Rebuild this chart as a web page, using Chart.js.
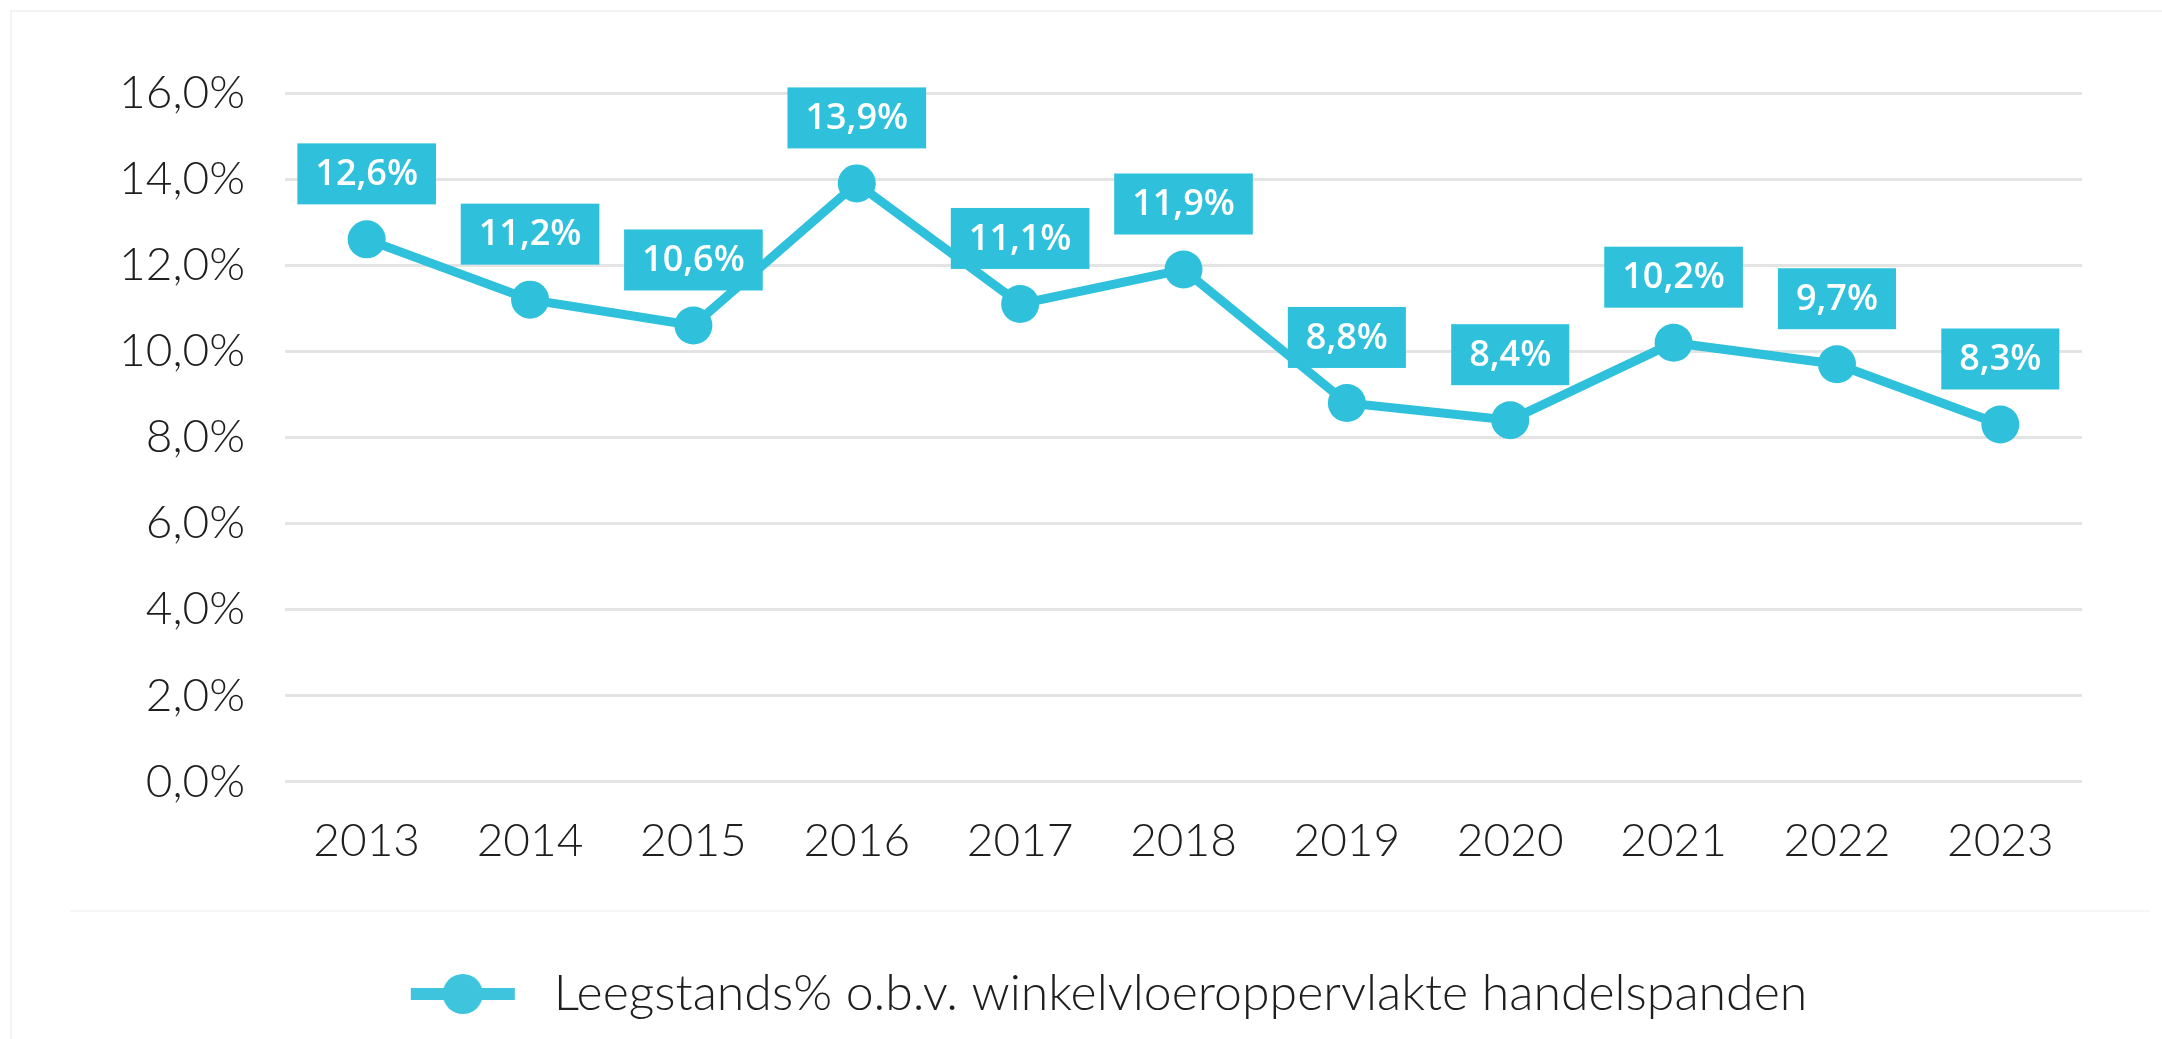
<!DOCTYPE html>
<html>
<head>
<meta charset="utf-8">
<script src="https://cdn.jsdelivr.net/npm/chart.js@4.4.1/dist/chart.umd.min.js"></script>
<style>
    html, body { margin: 0; padding: 0; background: #fff; }
    #wrap { position: relative; width: 2162px; height: 1039px; overflow: hidden; }
    #frame { position: absolute; left: 10px; top: 10px; width: 2152px; height: 1039px; border-left: 2px solid #f3f3f3; border-top: 2px solid #f3f3f3; }
    #sep { position: absolute; left: 70px; top: 910px; width: 2080px; height: 0; border-top: 2px solid #f6f6f6; }
    canvas { position: absolute; left: 0; top: 0; }
</style>
</head>
<body>
<div id="wrap">
    <div id="frame"></div>
    <div id="sep"></div>
    <canvas id="leegstand" width="2162" height="1039"></canvas>
</div>
<script>
const years = ['2013', '2014', '2015', '2016', '2017', '2018', '2019', '2020', '2021', '2022', '2023'];
const leegstand = [12.6, 11.2, 10.6, 13.9, 11.1, 11.9, 8.8, 8.4, 10.2, 9.7, 8.3];
const seriesName = 'Leegstands% o.b.v. winkelvloeroppervlakte handelspanden';

const blue = '#2fc1dc';
const textColor = '#1e1e1e';
const fmt = v => v.toFixed(1).replace('.', ',') + '%';

// legend marker: line with a dot in the middle
// blank space left of it pushes the legend item to the right, blank on the right is the gap to the text
const marker = document.createElement('canvas');
marker.width = 254;
marker.height = 42;
(function () {
    const c = marker.getContext('2d');
    c.fillStyle = '#3ec5dd';
    c.fillRect(136, 15, 104, 12);
    c.beginPath();
    c.arc(188, 21, 20, 0, Math.PI * 2);
    c.fill();
})();

// value boxes above the points
const labelBoxes = {
    id: 'labelBoxes',
    afterDatasetsDraw(chart) {
        const ctx = chart.ctx;
        const meta = chart.getDatasetMeta(0);
        ctx.save();
        ctx.font = '600 36px "Open Sans"';
        ctx.textAlign = 'center';
        ctx.textBaseline = 'middle';
        meta.data.forEach((pt, i) => {
            const txt = fmt(leegstand[i]);
            const w = ctx.measureText(txt).width + 36;
            const h = 61;
            const top = pt.y - 35 - h;
            ctx.fillStyle = blue;
            ctx.fillRect(pt.x - w / 2, top, w, h);
            ctx.fillStyle = '#fff';
            ctx.fillText(txt, pt.x, top + h / 2 + 1);
        });
        ctx.restore();
    }
};

const ctx = document.getElementById('leegstand').getContext('2d');
const chart = new Chart(ctx, {
    type: 'line',
    data: {
        labels: years,
        datasets: [{
            label: seriesName,
            data: leegstand,
            borderColor: blue,
            backgroundColor: blue,
            borderWidth: 9,
            pointRadius: 19,
            pointHoverRadius: 19,
            pointBackgroundColor: blue,
            pointBorderWidth: 0,
            tension: 0
        }]
    },
    options: {
        responsive: false,
        animation: false,
        layout: { padding: { top: 93, left: 0, right: 80, bottom: 10 } },
        scales: {
            x: {
                offset: true,
                afterFit(scale) { scale.height += 48; },
                grid: { display: false },
                border: { display: false },
                ticks: {
                    color: textColor,
                    padding: 24,
                    font: { family: 'Lato', size: 46, weight: 300 }
                }
            },
            y: {
                min: 0,
                max: 16,
                afterFit(scale) { scale.width = 285; },
                grid: { color: '#e4e4e4', lineWidth: 3, drawTicks: false },
                border: { display: false },
                ticks: {
                    stepSize: 2,
                    color: textColor,
                    padding: 40,
                    font: { family: 'Lato', size: 46, weight: 300 },
                    callback: v => fmt(v)
                }
            }
        },
        plugins: {
            legend: {
                position: 'bottom',
                labels: {
                    usePointStyle: true,
                    pointStyleWidth: 254,
                    padding: 28,
                    color: textColor,
                    font: { family: 'Lato', size: 50, weight: 300 },
                    generateLabels(c) {
                        return [{
                            text: seriesName,
                            pointStyle: marker,
                            fillStyle: blue,
                            strokeStyle: blue,
                            lineWidth: 0,
                            hidden: false,
                            datasetIndex: 0,
                            fontColor: textColor
                        }];
                    }
                }
            },
            tooltip: { enabled: false }
        }
    },
    plugins: [labelBoxes]
});
</script>
</body>
</html>
